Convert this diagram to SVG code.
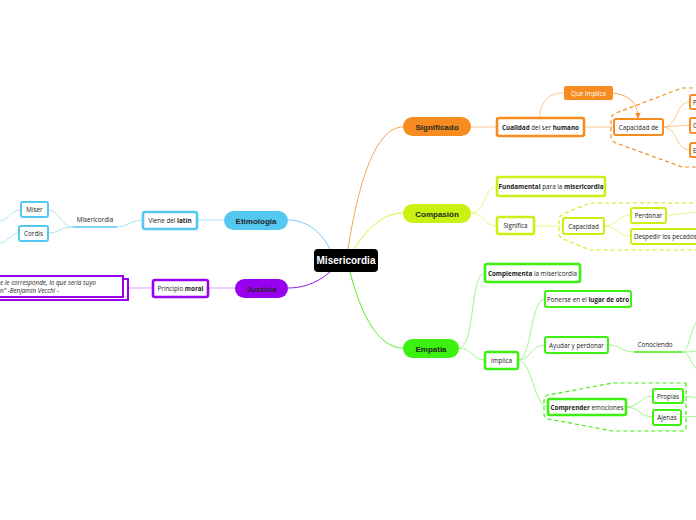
<svg xmlns="http://www.w3.org/2000/svg" width="696" height="520" viewBox="0 0 696 520">
<defs>
<style>
.main{font-family:"Liberation Sans",Arial,sans-serif;font-weight:bold;font-size:8px;fill:#1e2a1e;text-anchor:middle}
.t{font-family:"Open Sans","Liberation Sans",sans-serif;font-size:6.3px;fill:#222;text-anchor:middle}
.tl{font-family:"Open Sans","Liberation Sans",sans-serif;font-size:6.3px;fill:#222}
.b{font-weight:bold}
.box{fill:#fff}
.o{stroke:#f68b1f}.l{stroke:#c9f213}.g{stroke:#3cf010}.bl{stroke:#55c8f2}.p{stroke:#9a00f0}
.w3{stroke-width:2.6}.w2{stroke-width:2}
.c{fill:none;stroke-width:1}
.co{stroke:#fcc98f}.cl{stroke:#e3fb8a}.cg{stroke:#9ef78a}.cb{stroke:#a9e3f8}.cp{stroke:#d7a3f8}
.dash{fill:none;stroke-width:1.2;stroke-dasharray:4 3}
</style>
<marker id="arr" viewBox="0 0 10 10" refX="9" refY="5" markerWidth="6" markerHeight="6" orient="auto"><path d="M0 0L10 5L0 10z" fill="#f68b1f"/></marker>
</defs>
<rect width="696" height="520" fill="#fff"/>

<g id="connectors">
<path class="c" stroke="#f9a54a" stroke-width="1.5" d="M348 249C358 185 375 127 403 127"/>
<path class="c" stroke="#d4f530" stroke-width="1.5" d="M354 249C370 225 385 213 403 213"/>
<path class="c" stroke="#4cf020" stroke-width="1.5" d="M350 272C365 330 385 348 403 348"/>
<path class="c" stroke="#6fd0f4" stroke-width="1.5" d="M330 249C320 230 305 220 288 220"/>
<path class="c" stroke="#9a10f0" stroke-width="1.5" d="M330 272C315 285 300 288 288 288"/>

<path class="c co" d="M471 127L497 127M584 127L614 127M540 118C540 100 550 93 564 93"/>
<path class="c" stroke="#f9a54a" d="M613 93C630 95 638 104 638 118" marker-end="url(#arr)"/>
<path class="c co" d="M663 127C678 127 675 102 690 102M663 127L690 125M663 127C678 127 675 150 690 150"/>
<path class="dash o" d="M700 88L682 88L616 113Q611 115 611 120L611 136Q611 141 616 143L682 167L700 167"/>

<path class="c cl" d="M471 213C487 213 482 187 497 187M471 213C487 213 482 226 497 226M534 226L563 226M604 226C618 226 617 215 631 215M604 226C618 226 617 236 631 236M666 215C680 215 685 212 700 212"/>
<path class="dash l" d="M700 203L590 203L563 214Q559 216 559 220L559 233Q559 237 563 239L590 250L700 250"/>

<path class="c cg" d="M459 348C475 348 470 273 485 273M459 348C472 348 472 360 485 360M518 360C532 360 530 299 545 299M518 360C532 360 530 345 545 345M518 360C532 360 534 407 548 407M608 345C620 345 622 352 634 352M682 352C690 352 690 325 700 318M682 352C690 352 692 352 700 350M682 352C690 352 690 365 700 372M626 407C640 407 640 396 653 396M626 407C640 407 640 417 653 417M683 396L700 398M681 417L700 416"/>
<path fill="none" stroke="#3cf010" stroke-width="1.6" d="M634 352L682 352"/>
<path class="dash g" d="M686 383L686 427Q686 431 682 431L613 431L548 419Q544 418 544 414L544 399Q544 396 548 395L613 383Z"/>

<path class="c cb" d="M224 220L197 220M143 220C130 220 128 227 117 227M73 227C60 227 60 210 48 210M73 227C60 227 60 233 48 233M21 210C10 210 8 221 0 221M19 233C10 233 8 243 0 243"/>
<path fill="none" stroke="#55c8f2" stroke-width="1.4" d="M73 227L117 227"/>
<path class="c cp" d="M235 288L208 288M153 288L128 288"/>
</g>

<g id="misericordia">
<rect x="314" y="249" width="64" height="23" rx="4" fill="#000"/>
<text x="346" y="264" font-family="Liberation Sans,Arial,sans-serif" font-size="10" font-weight="bold" fill="#fff" text-anchor="middle">Misericordia</text>
</g>

<g id="significado"><rect x="403" y="117" width="68" height="19" rx="9.5" fill="#f68b1f"/><text class="main" x="437" y="130">Significado</text></g>
<g id="cualidad"><rect class="box o w3" x="497" y="118" width="87" height="18" rx="2"/><text class="t" x="540.5" y="129.5"><tspan class="b">Cualidad</tspan> del ser <tspan class="b">humano</tspan></text></g>
<g id="que-implica"><rect x="564" y="86" width="49" height="14" rx="2" fill="#f68b1f"/><text class="t" x="588.5" y="95.5" style="fill:#fff">Que implica</text></g>
<g id="capacidad-de"><rect class="box o w2" x="614" y="119" width="49" height="16" rx="2"/><text class="t" x="638.5" y="129.5">Capacidad de</text></g>
<g id="cap-1"><rect class="box o w2" x="690" y="95" width="20" height="14" rx="2"/><text class="tl" x="693" y="104.5">P</text></g>
<g id="cap-2"><rect class="box o w2" x="690" y="118" width="20" height="15" rx="2"/><text class="tl" x="693" y="128">C</text></g>
<g id="cap-3"><rect class="box o w2" x="690" y="143" width="20" height="14" rx="2"/><text class="tl" x="693" y="152.5">E</text></g>

<g id="compasion"><rect x="403" y="204" width="68" height="19" rx="9.5" fill="#c9f213"/><text class="main" x="437" y="216.5">Compasión</text></g>
<g id="fundamental"><rect class="box l w3" x="497" y="177" width="108" height="19" rx="2"/><text class="t" x="551" y="189"><tspan class="b">Fundamental</tspan> para la <tspan class="b">misericordia</tspan></text></g>
<g id="significa"><rect class="box l w3" x="497" y="217" width="37" height="17" rx="2"/><text class="t" x="515.5" y="228">Significa</text></g>
<g id="capacidad"><rect class="box l w2" x="563" y="218" width="41" height="16" rx="2"/><text class="t" x="583.5" y="228.5">Capacidad</text></g>
<g id="perdonar"><rect class="box l w2" x="631" y="208" width="35" height="15" rx="2"/><text class="t" x="648.5" y="218">Perdonar</text></g>
<g id="despedir"><rect class="box l w2" x="631" y="229" width="75" height="15" rx="2"/><text class="tl" x="634" y="239" font-size="5.9">Despedir los pecados</text></g>

<g id="empatia"><rect x="403" y="339" width="56" height="19" rx="9.5" fill="#3cf010"/><text class="main" x="431" y="351.5">Empatia</text></g>
<g id="complementa"><rect class="box g w3" x="485" y="264" width="95" height="18" rx="2"/><text class="t" x="532.5" y="275.5"><tspan class="b">Complementa</tspan> la misericordia</text></g>
<g id="implica"><rect class="box g w3" x="485" y="352" width="33" height="17" rx="2"/><text class="t" x="501.5" y="363">Implica</text></g>
<g id="ponerse"><rect class="box g w2" x="545" y="291" width="86" height="16" rx="2"/><text class="t" x="588" y="301.5">Ponerse en el <tspan class="b">lugar de otro</tspan></text></g>
<g id="ayudar"><rect class="box g w2" x="545" y="337" width="63" height="16" rx="2"/><text class="t" x="576.5" y="347.5">Ayudar y perdonar</text></g>
<g id="conociendo"><text class="t" x="655" y="346.5">Conociendo</text></g>
<g id="comprender"><rect class="box g w3" x="548" y="399" width="78" height="16" rx="2"/><text class="t" x="587" y="409.5"><tspan class="b">Comprender</tspan> emociones</text></g>
<g id="propias"><rect class="box g w2" x="653" y="389" width="30" height="14" rx="2"/><text class="t" x="668" y="398.5">Propias</text></g>
<g id="ajenas"><rect class="box g w2" x="653" y="410" width="28" height="15" rx="2"/><text class="t" x="667" y="420">Ajenas</text></g>

<g id="etimologia"><rect x="224" y="211" width="64" height="19" rx="9.5" fill="#55c8f2"/><text class="main" x="256" y="223.5">Etimologia</text></g>
<g id="viene"><rect class="box bl w3" x="143" y="212" width="54" height="17" rx="2"/><text class="t" x="170" y="223">Viene del <tspan class="b">latín</tspan></text></g>
<g id="misericordia-latin"><text class="t" x="95" y="222">Misericordia</text></g>
<g id="miser"><rect class="box bl w2" x="21" y="202" width="27" height="15" rx="2"/><text class="t" x="34.5" y="212">Miser</text></g>
<g id="cordis"><rect class="box bl w2" x="19" y="226" width="29" height="15" rx="2"/><text class="t" x="33.5" y="236">Cordis</text></g>

<g id="justicia"><rect x="235" y="279" width="53" height="19" rx="9.5" fill="#9a00f0"/><text class="main" x="261.5" y="291.5">Justicia</text></g>
<g id="principio"><rect class="box p w3" x="153" y="280" width="55" height="17" rx="2"/><text class="t" x="180.5" y="291">Principio <tspan class="b">moral</tspan></text></g>
<g id="cita">
<rect class="box p w2" x="-5" y="279" width="133" height="21"/>
<rect class="box p w2" x="-5" y="276" width="128" height="21"/>
<text class="tl" x="0" y="285" font-style="italic" font-size="5.4">e le corresponde, lo que sería suyo</text>
<text class="tl" x="0" y="293" font-style="italic" font-size="5.4">n" -Benjamin Vecchi -</text>
</g>
</svg>
